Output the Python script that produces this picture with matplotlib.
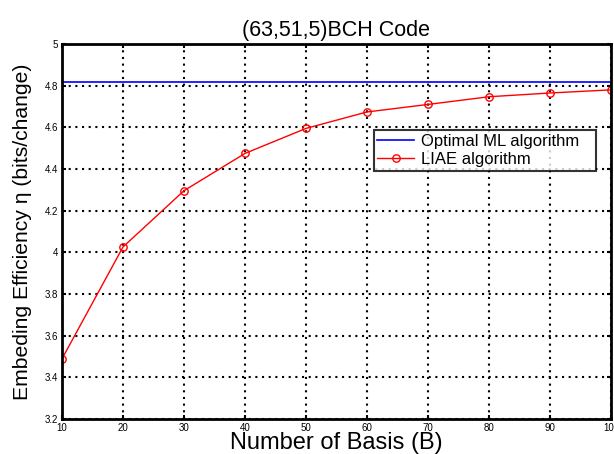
import matplotlib
matplotlib.use("Agg")
import matplotlib.pyplot as plt

plt.rcParams['font.family'] = ['Liberation Sans', 'DejaVu Sans']

basis = [10, 20, 30, 40, 50, 60, 70, 80, 90, 100]
liae = [3.489, 4.026, 4.296, 4.475, 4.595, 4.674, 4.71, 4.747, 4.765, 4.78]
optimal_ml = 4.816
xticks = [10, 20, 30, 40, 50, 60, 70, 80, 90, 100]
yticks = [3.2, 3.4, 3.6, 3.8, 4.0, 4.2, 4.4, 4.6, 4.8, 5.0]
ytick_labels = ['3.2', '3.4', '3.6', '3.8', '4', '4.2', '4.4', '4.6', '4.8', '5']

fig = plt.figure(figsize=(6.14, 4.54), dpi=100)
ax = fig.add_axes([0.101, 0.077, 0.894, 0.826])

ax.axhline(optimal_ml, color='#0000ff', lw=1.2, label='Optimal ML algorithm')
ax.plot(basis, liae, color='#ff0000', lw=1.0, marker='o', markersize=5.3,
        markerfacecolor='none', markeredgecolor='#ff0000', markeredgewidth=1.0,
        label='LIAE algorithm')

ax.set_xlim(10, 100)
ax.set_ylim(3.2, 5.0)
ax.set_xticks(xticks)
ax.set_xticklabels([str(v) for v in xticks])
ax.set_yticks(yticks)
ax.set_yticklabels(ytick_labels)
ax.tick_params(direction='in', length=3, width=1.5, labelsize=7, pad=3,
               top=True, right=True)
ax.grid(True, color='black', linestyle=(0, (1, 2.2)), linewidth=1.5)
for s in ax.spines.values():
    s.set_linewidth(2)

ax.set_title('(63,51,5)BCH Code', fontsize=15.5, pad=6)
ax.set_xlabel('Number of Basis (B)', fontsize=17, labelpad=-1)
ax.set_ylabel('Embeding Efficiency η (bits/change)', fontsize=15.2, labelpad=9)

leg = ax.legend(loc='upper left', bbox_to_anchor=(0.568, 0.5, 0.404, 0.271),
                mode='expand', fontsize=12,
                frameon=True, fancybox=False, edgecolor='black',
                handlelength=2.2, handletextpad=0.4, borderpad=0.22,
                labelspacing=0.2, borderaxespad=0)
leg.get_frame().set_linewidth(1.5)

fig.savefig('out.png', dpi=100)
